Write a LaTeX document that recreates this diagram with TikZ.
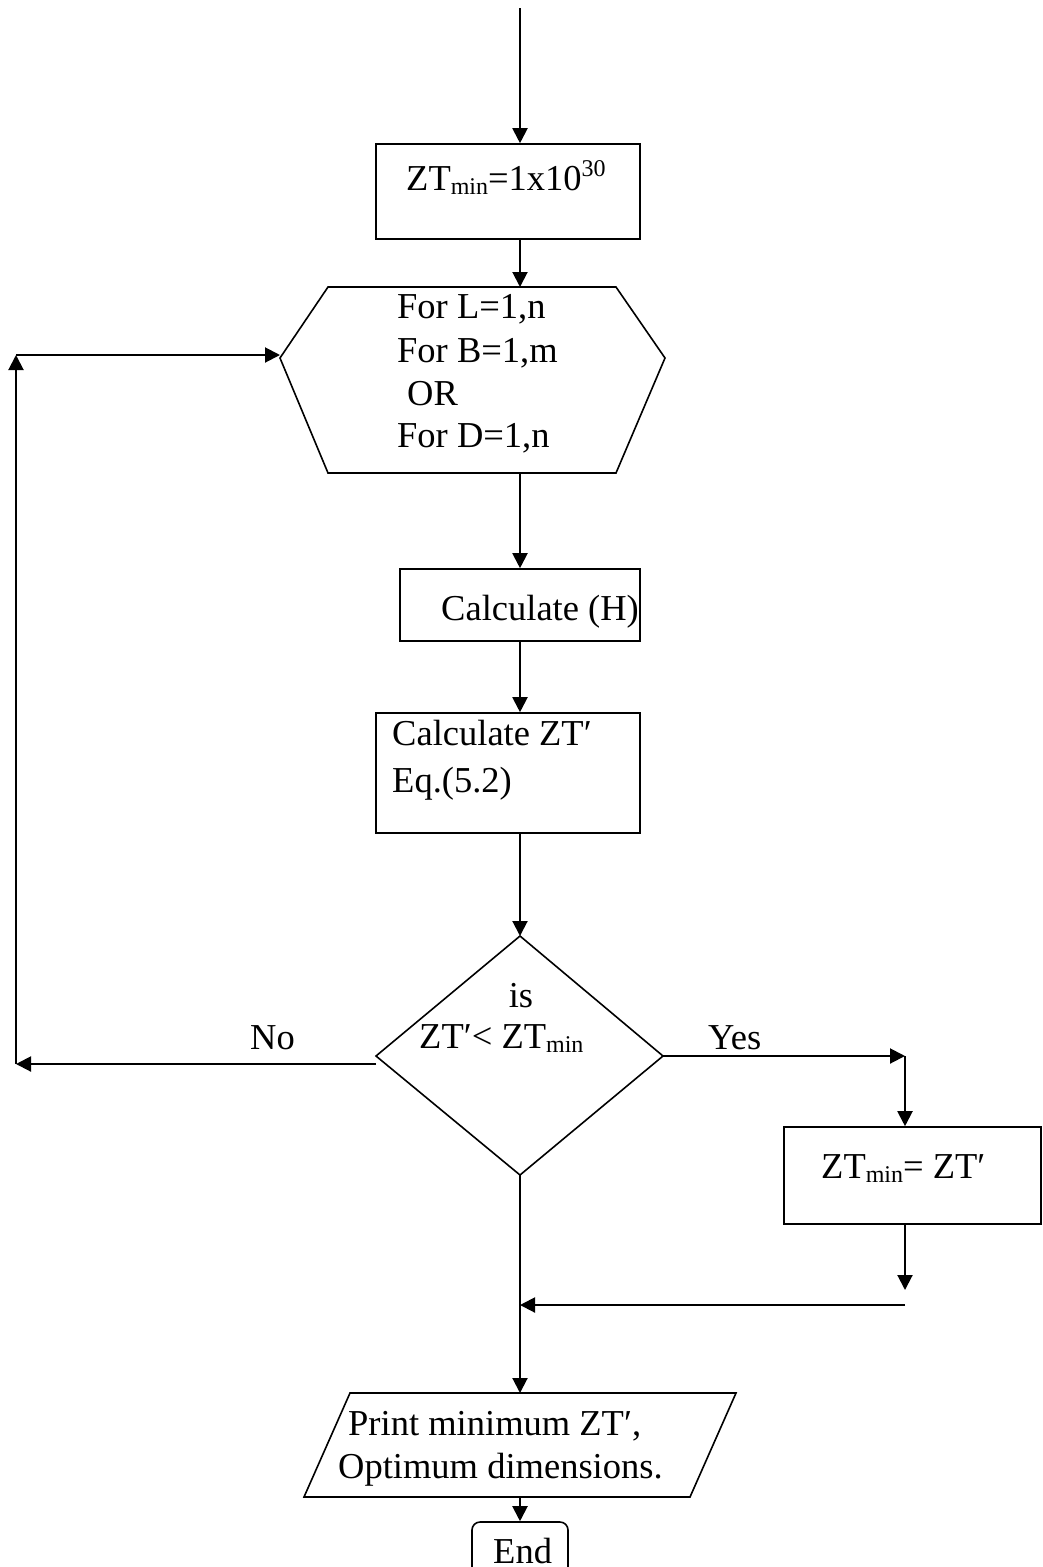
\documentclass[tikz,border=0pt]{standalone}
\usepackage{fontspec}
\setmainfont{Liberation Serif}
\usetikzlibrary{arrows.meta}
\newcommand\mainsz{\fontsize{36.5}{43}\selectfont}
\newcommand\sbs[1]{\raisebox{-0.13em}{\fontsize{24}{24}\selectfont #1}}
\newcommand\sps[1]{\raisebox{0.36em}{\fontsize{24}{24}\selectfont #1}}
\begin{document}
\begin{tikzpicture}[x=1pt,y=-1pt,
  shapebox/.style={draw, line width=1.6pt, inner sep=0pt},
  outline/.style={draw, line width=1.6pt, line join=miter},
  arr/.style={line width=2pt, -{Triangle[length=15pt,width=15pt]}},
  plain/.style={line width=2pt},
  txt/.style={font=\mainsz, inner sep=0pt, anchor=base west}]
\clip (0,0) rectangle (1043,1567);
\fill[white] (0,0) rectangle (1043,1567);

% coordinates
\coordinate (start) at (520,8);
\coordinate (hT) at (520,287);
\coordinate (hB) at (520,473);
\coordinate (hL) at (280,358);
\coordinate (dT) at (520,936);
\coordinate (dL) at (376,1056);
\coordinate (dR) at (663,1056);
\coordinate (dB) at (520,1175);
\coordinate (noS) at (376,1064);
\coordinate (noE) at (16,1064);
\coordinate (loopC) at (16,355);
\coordinate (yesC) at (905,1056);
\coordinate (yesD) at (905,1290);
\coordinate (joinS) at (905,1305);
\coordinate (joinE) at (520,1305);
\coordinate (pT) at (520,1393);
\coordinate (pB) at (520,1497);

% boxes
\node[shapebox, minimum width=264pt, minimum height=95pt] (b1) at (508,191.5) {};
\node[shapebox, minimum width=240pt, minimum height=72pt] (b2) at (520,605) {};
\node[shapebox, minimum width=264pt, minimum height=120pt] (b3) at (508,773) {};
\node[shapebox, minimum width=257pt, minimum height=97pt] (b4) at (912.5,1175.5) {};
\node[shapebox, rounded corners=8pt, minimum width=96pt, minimum height=64pt] (endN) at (520,1554) {};

% hexagon
\draw[outline] (328,287) -- (616,287) -- (665,358) -- (616,473) -- (328,473) -- (hL) -- cycle;
% diamond
\draw[outline] (dT) -- (dR) -- (dB) -- (dL) -- cycle;
% parallelogram
\draw[outline] (350,1393) -- (736,1393) -- (690,1497) -- (304,1497) -- cycle;

% texts
\node[txt] (t1) at (406,190) {ZT\sbs{min}=1x10\sps{30}};
\node[txt] (h1) at (397,318) {For L=1,n};
\node[txt] (h2) at (397,362) {For B=1,m};
\node[txt] (h3) at (407,405) {OR};
\node[txt] (h4) at (397,447) {For D=1,n};
\node[txt] (t2) at (441,620) {Calculate (H)};
\node[txt] (t3a) at (392,745) {Calculate ZT′};
\node[txt] (t3b) at (392,792) {Eq.(5.2)};
\node[txt, anchor=base] (tis) at (521,1007) {is};
\node[txt] (tcmp) at (419,1048) {ZT′< ZT\sbs{min}};
\node[txt] (tno) at (250,1049) {No};
\node[txt] (tyes) at (708,1049) {Yes};
\node[txt] (t4) at (821,1178) {ZT\sbs{min}= ZT′};
\node[txt] (t5a) at (348,1435) {Print minimum ZT′,};
\node[txt] (t5b) at (338,1478) {Optimum dimensions.};
\node[txt] (tend) at (493,1563) {End};

% connectors
\draw[arr] (start) -- (start |- b1.north);
\draw[arr] (b1.south -| start) -- (hT);
\draw[arr] (hB) -- (b2.north);
\draw[arr] (b2.south) -- (b3.north -| hB);
\draw[arr] (b3.south -| hB) -- (dT);
\draw[arr] (noS) -- (noE);
\draw[arr] (noE) -- (loopC);
\draw[arr] (loopC) -- (loopC -| hL);
\draw[arr] (dR) -- (yesC);
\draw[arr] (yesC) -- (b4.north -| yesC);
\draw[arr] (b4.south -| yesC) -- (yesD);
\draw[arr] (joinS) -- (joinE);
\draw[arr] (dB) -- (pT);
\draw[arr] (pB) -- (endN.north);
\end{tikzpicture}
\end{document}
